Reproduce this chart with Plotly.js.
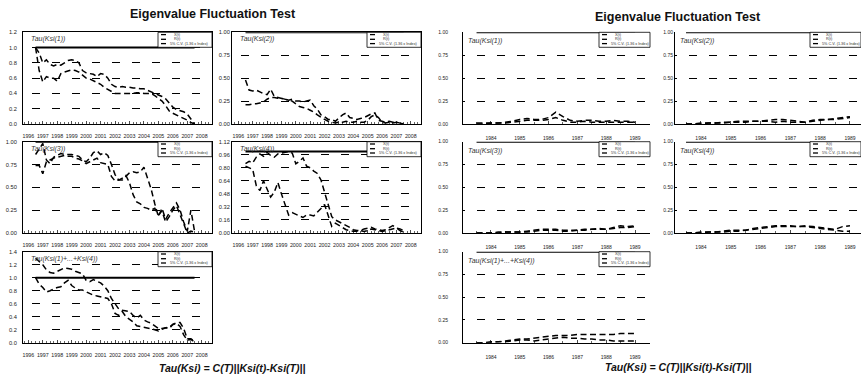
<!DOCTYPE html>
<html><head><meta charset="utf-8">
<script src="https://cdn.plot.ly/plotly-3.0.1.min.js"></script>
<style>html,body{margin:0;padding:0;background:#fff}#chart{width:861px;height:378px}</style>
</head><body><div id="chart"></div>
<script>
// ---------------- DATA ----------------
const leftYears = [1996.5,1996.75,1997,1997.25,1997.5,1997.75,1998,1998.25,1998.5,1998.75,1999,1999.25,1999.5,1999.75,2000,2000.25,2000.5,2000.75,2001,2001.25,2001.5,2001.75,2002,2002.25,2002.5,2002.75,2003,2003.25,2003.5,2003.75,2004,2004.25,2004.5,2004.75,2005,2005.25,2005.5,2005.75,2006,2006.25,2006.5,2006.75,2007,2007.25,2007.5];
const rightYears = [1983.5,1983.75,1984,1984.25,1984.5,1984.75,1985,1985.25,1985.5,1985.75,1986,1986.25,1986.5,1986.75,1987,1987.25,1987.5,1987.75,1988,1988.25,1988.5,1988.75,1989];

const panelLabels = ["Tau(Ksi(1))","Tau(Ksi(2))","Tau(Ksi(3))","Tau(Ksi(4))","Tau(Ksi(1)+...+Ksi(4))"];
const legendLabels = ["X(t)","R(t)","5% C.V. (1.36 x Index)"];
const chartTitle = "Eigenvalue Fluctuation Test";
const footnote = "Tau(Ksi) = C(T)||Ksi(t)-Ksi(T)||";
const cvLevel = [1, 1];

// Left panel (1996-2008)
const L1_X = [1.00,0.93,0.80,0.84,0.78,0.76,0.78,0.77,0.80,0.83,0.84,0.83,0.80,0.70,0.67,0.66,0.65,0.62,0.66,0.65,0.60,0.52,0.49,0.48,0.49,0.48,0.48,0.47,0.47,0.46,0.46,0.44,0.42,0.41,0.38,0.36,0.33,0.28,0.22,0.19,0.18,0.16,0.13,0.07,0.00];
const L1_R = [1.00,0.70,0.55,0.62,0.60,0.60,0.56,0.66,0.68,0.70,0.71,0.70,0.68,0.64,0.60,0.59,0.57,0.55,0.52,0.48,0.45,0.42,0.40,0.40,0.40,0.40,0.40,0.40,0.41,0.41,0.40,0.40,0.40,0.37,0.33,0.30,0.24,0.17,0.14,0.12,0.10,0.08,0.05,0.02,0.00];
const L2_X = [0.48,0.37,0.36,0.37,0.35,0.33,0.32,0.38,0.30,0.29,0.28,0.27,0.26,0.27,0.25,0.25,0.24,0.25,0.26,0.20,0.16,0.10,0.08,0.05,0.05,0.03,0.07,0.10,0.12,0.07,0.06,0.05,0.06,0.07,0.09,0.11,0.12,0.04,0.03,0.02,0.03,0.02,0.02,0.01,0.00];
const L2_R = [0.21,0.21,0.22,0.22,0.23,0.24,0.27,0.29,0.29,0.28,0.28,0.27,0.26,0.25,0.22,0.19,0.18,0.17,0.15,0.13,0.10,0.07,0.05,0.03,0.02,0.01,0.02,0.02,0.03,0.02,0.02,0.03,0.02,0.02,0.04,0.08,0.10,0.07,0.02,0.01,0.02,0.01,0.02,0.01,0.00];
const L3_X = [0.86,0.92,0.98,0.80,0.76,0.83,0.85,0.87,0.86,0.86,0.86,0.85,0.84,0.80,0.78,0.82,0.88,0.90,0.86,0.88,0.85,0.75,0.64,0.58,0.58,0.62,0.66,0.67,0.66,0.67,0.72,0.60,0.48,0.32,0.18,0.27,0.15,0.22,0.28,0.33,0.25,0.12,0.02,0.25,0.02];
const L3_R = [0.74,0.74,0.65,0.78,0.80,0.82,0.83,0.84,0.85,0.84,0.84,0.82,0.81,0.79,0.76,0.78,0.80,0.82,0.77,0.76,0.75,0.62,0.57,0.58,0.60,0.63,0.55,0.42,0.34,0.32,0.28,0.27,0.25,0.27,0.20,0.24,0.12,0.18,0.25,0.30,0.20,0.08,0.00,0.02,0.01];
const L4_X = [0.85,0.88,0.86,0.93,0.97,0.94,0.99,0.95,0.93,0.97,0.98,0.99,1.00,0.98,0.85,0.88,0.92,0.82,0.80,0.76,0.73,0.65,0.50,0.35,0.20,0.16,0.14,0.12,0.10,0.07,0.04,0.03,0.03,0.05,0.06,0.07,0.05,0.04,0.03,0.04,0.07,0.09,0.06,0.05,0.03];
const L4_R = [0.82,0.80,0.78,0.58,0.52,0.64,0.55,0.44,0.50,0.62,0.48,0.34,0.22,0.25,0.23,0.20,0.19,0.22,0.22,0.21,0.25,0.30,0.35,0.22,0.08,0.12,0.09,0.06,0.04,0.03,0.02,0.02,0.03,0.02,0.03,0.05,0.04,0.03,0.02,0.03,0.04,0.05,0.06,0.03,0.01];
const L5_X = [1.30,1.25,1.20,1.12,1.08,1.07,1.10,1.12,1.15,1.14,1.13,1.10,1.08,1.06,0.96,0.94,0.97,0.94,0.92,0.87,0.80,0.68,0.60,0.52,0.50,0.49,0.48,0.42,0.38,0.42,0.35,0.32,0.30,0.26,0.22,0.22,0.23,0.24,0.28,0.31,0.31,0.22,0.06,0.06,0.02];
const L5_R = [1.00,0.90,0.85,0.78,0.80,0.83,0.85,0.86,0.92,0.96,0.88,0.84,0.81,0.81,0.78,0.76,0.73,0.72,0.71,0.69,0.68,0.60,0.45,0.42,0.48,0.40,0.36,0.32,0.26,0.25,0.24,0.23,0.21,0.20,0.18,0.20,0.23,0.22,0.28,0.30,0.25,0.12,0.04,0.05,0.01];

// Right panel (1983-1989)
const R1_X = [0.01,0.01,0.01,0.01,0.02,0.03,0.05,0.06,0.05,0.05,0.07,0.13,0.08,0.04,0.03,0.04,0.04,0.03,0.03,0.04,0.03,0.03,0.02];
const R1_R = [0.00,0.00,0.01,0.01,0.01,0.02,0.03,0.04,0.04,0.04,0.05,0.07,0.04,0.02,0.02,0.03,0.02,0.02,0.02,0.02,0.02,0.02,0.02];
const R2_X = [0.00,0.00,0.01,0.01,0.01,0.02,0.02,0.03,0.03,0.03,0.03,0.04,0.05,0.05,0.04,0.03,0.02,0.04,0.05,0.05,0.06,0.07,0.08];
const R2_R = [0.00,0.00,0.00,0.01,0.01,0.01,0.02,0.02,0.02,0.03,0.03,0.03,0.02,0.03,0.02,0.02,0.02,0.03,0.04,0.05,0.05,0.06,0.07];
const R3_X = [0.00,0.00,0.00,0.01,0.01,0.01,0.01,0.02,0.03,0.04,0.04,0.04,0.03,0.03,0.03,0.04,0.04,0.05,0.04,0.06,0.08,0.07,0.08];
const R3_R = [0.00,0.00,0.00,0.00,0.01,0.01,0.01,0.01,0.02,0.03,0.03,0.03,0.02,0.02,0.03,0.03,0.04,0.04,0.04,0.05,0.06,0.06,0.07];
const R4_X = [0.00,0.00,0.01,0.01,0.01,0.02,0.03,0.03,0.03,0.05,0.06,0.07,0.08,0.08,0.08,0.07,0.08,0.07,0.06,0.05,0.04,0.07,0.08];
const R4_R = [0.00,0.00,0.00,0.01,0.01,0.01,0.02,0.02,0.03,0.04,0.05,0.06,0.07,0.07,0.07,0.07,0.07,0.06,0.05,0.04,0.03,0.02,0.02];
const R5_X = [0.00,0.00,0.01,0.01,0.02,0.03,0.04,0.04,0.05,0.06,0.07,0.08,0.08,0.08,0.09,0.09,0.09,0.09,0.09,0.09,0.10,0.10,0.10];
const R5_R = [0.00,0.00,0.00,0.01,0.01,0.02,0.03,0.03,0.02,0.03,0.04,0.05,0.06,0.05,0.05,0.04,0.04,0.03,0.03,0.02,0.02,0.02,0.02];

// ---------------- LAYOUT GEOMETRY (pixels) ----------------
const W = 861, H = 378;
const px = v => v / W, py = v => 1 - v / H;
const colsL = [[23,212],[232,421]], colsR = [[463,650],[675,861]];
const rows = [[32.3,124],[141.7,233],[251.7,342.7]];
const xRangeL = [[1995.63,2008.71],[1995.56,2008.71]];
const xRangeR = [[1983.03,1989.52],[1983.13,1989.37]];

const specs = [
  {side:'L',c:0,r:0,yr:[0,1.2], dt:0.2, fmt:'.1f',X:L1_X,R:L1_R,lab:panelLabels[0]},
  {side:'L',c:1,r:0,yr:[0,1],   dt:0.25,fmt:'.2f',X:L2_X,R:L2_R,lab:panelLabels[1]},
  {side:'L',c:0,r:1,yr:[0,1],   dt:0.25,fmt:'.2f',X:L3_X,R:L3_R,lab:panelLabels[2]},
  {side:'L',c:1,r:1,yr:[0,1.12],dt:0.16,fmt:'.2f',X:L4_X,R:L4_R,lab:panelLabels[3]},
  {side:'L',c:0,r:2,yr:[0,1.4], dt:0.2, fmt:'.1f',X:L5_X,R:L5_R,lab:panelLabels[4]},
  {side:'R',c:0,r:0,yr:[0,1],dt:0.25,fmt:'.2f',X:R1_X,R:R1_R,lab:panelLabels[0]},
  {side:'R',c:1,r:0,yr:[0,1],dt:0.25,fmt:'.2f',X:R2_X,R:R2_R,lab:panelLabels[1]},
  {side:'R',c:0,r:1,yr:[0,1],dt:0.25,fmt:'.2f',X:R3_X,R:R3_R,lab:panelLabels[2]},
  {side:'R',c:1,r:1,yr:[0,1],dt:0.25,fmt:'.2f',X:R4_X,R:R4_R,lab:panelLabels[3]},
  {side:'R',c:0,r:2,yr:[0,1],dt:0.25,fmt:'.2f',X:R5_X,R:R5_R,lab:panelLabels[4]}
];

const FONT = 'Liberation Sans, Arial, sans-serif';
const traces = [];
const layout = {
  width: W, height: H, margin:{l:0,r:0,t:0,b:0},
  paper_bgcolor:'#fff', plot_bgcolor:'#fff',
  font:{family:FONT, color:'#222'},
  showlegend:false, shapes:[], annotations:[]
};

specs.forEach((s, i) => {
  const n = i + 1, sfx = n === 1 ? '' : String(n);
  const L = s.side === 'L';
  const [x0, x1] = (L ? colsL : colsR)[s.c];
  const [y0, y1] = rows[s.r];
  const yrs = L ? leftYears : rightYears;
  const dashStyle = {color:'#000', width:1.5, dash:'6px,3.5px'};
  traces.push({type:'scatter', mode:'lines', x:yrs, y:s.X, xaxis:'x'+sfx, yaxis:'y'+sfx, line:dashStyle, hoverinfo:'skip', name:legendLabels[0]});
  traces.push({type:'scatter', mode:'lines', x:yrs, y:s.R, xaxis:'x'+sfx, yaxis:'y'+sfx, line:dashStyle, hoverinfo:'skip', name:legendLabels[1]});
  traces.push({type:'scatter', mode:'lines', x:[yrs[0], yrs[yrs.length-1]], y:cvLevel, xaxis:'x'+sfx, yaxis:'y'+sfx, line:{color:'#000', width:2}, hoverinfo:'skip', name:legendLabels[2]});

  layout['xaxis'+sfx] = {
    domain:[px(x0), px(x1)], range:(L ? xRangeL : xRangeR)[s.c], anchor:'y'+sfx,
    showline:true, linecolor:'#000', linewidth:1, mirror:L,
    ticks:'inside', ticklen:3, tickwidth:0.7, tickcolor:'#000',
    tick0: L ? 1996 : 1984, dtick:1, tickformat:'d', tickangle:0,
    tickfont:{size: L ? 5.3 : 5, color:'#222'}, ticklabelstandoff: L ? 7 : 9,
    minor:{dtick: L ? 0.25 : 0.5, ticks:'inside', ticklen:2, tickwidth:0.6, tickcolor:'#000', showgrid:false},
    showgrid:false, zeroline:false, fixedrange:true
  };
  layout['yaxis'+sfx] = {
    domain:[py(y1), py(y0)], range:s.yr, anchor:'x'+sfx,
    showline:true, linecolor:'#000', linewidth:1, mirror:L,
    ticks:'', tick0:0, dtick:s.dt, tickformat:s.fmt,
    tickfont:{size: L ? 5.7 : 5, color:'#222'},
    ticklabelstandoff: L ? (s.c === 0 ? 4 : 0) : (s.c === 0 ? 13 : 0),
    showgrid:true, gridcolor:'#000', gridwidth:1,
    griddash: L ? '0px,9px,8px,3px' : '2px,12px,6px,0px',
    zeroline:false, fixedrange:true
  };

  // legend box
  const bw = L ? 54 : 51;
  const bx = x1 - bw;
  layout.shapes.push({type:'rect', xref:'paper', yref:'paper', x0:px(bx), x1:px(x1), y0:py(y0+15), y1:py(y0), fillcolor:'#fff', line:{color:'#000', width:0.8}, layer:'above'});
  const rowsY = [2.3, 7, 11.3];
  rowsY.forEach((dy, k) => {
    layout.shapes.push({type:'line', xref:'paper', yref:'paper', x0:px(bx+3), x1:px(bx+8), y0:py(y0+dy), y1:py(y0+dy), line:{color:'#000', width:1.3}, layer:'above'});
    layout.annotations.push({xref:'paper', yref:'paper', x:px(bx + (k < 2 ? 15 : 10.5)), y:py(y0+dy), text:legendLabels[k], showarrow:false, xanchor:'left', yanchor:'middle', font:{size:3.8, color:'#333'}, borderpad:0});
  });
  // subplot label
  layout.annotations.push({xref:'paper', yref:'paper', x:px(x0 + (L ? 6.5 : 4)), y:py(y0 + (L ? 7 : 9)), text:'<i>'+s.lab+'</i>', showarrow:false, xanchor:'left', yanchor:'middle', font:{size:7, color:'#333'}, borderpad:0});
});

// titles and footnotes
layout.annotations.push({xref:'paper', yref:'paper', x:px(213), y:py(14), text:'<b>'+chartTitle+'</b>', showarrow:false, xanchor:'center', yanchor:'middle', font:{size:12.5, color:'#111'}});
layout.annotations.push({xref:'paper', yref:'paper', x:px(677.5), y:py(17), text:'<b>'+chartTitle+'</b>', showarrow:false, xanchor:'center', yanchor:'middle', font:{size:12.5, color:'#111'}});
layout.annotations.push({xref:'paper', yref:'paper', x:px(232), y:py(368), text:'<b><i>'+footnote+'</i></b>', showarrow:false, xanchor:'center', yanchor:'middle', font:{size:10.5, color:'#111'}});
layout.annotations.push({xref:'paper', yref:'paper', x:px(678), y:py(367), text:'<b><i>'+footnote+'</i></b>', showarrow:false, xanchor:'center', yanchor:'middle', font:{size:10.5, color:'#111'}});

Plotly.newPlot('chart', traces, layout, {staticPlot:true, displayModeBar:false});
</script>
</body></html>
